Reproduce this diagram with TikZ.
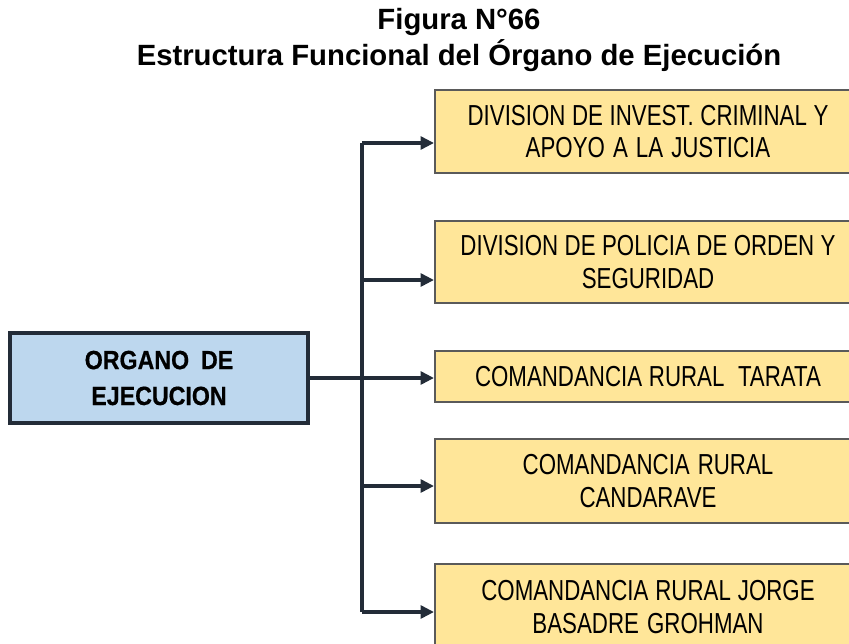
\documentclass[tikz,border=0pt]{standalone}
\usepackage{fontspec}
\setmainfont{Liberation Sans}
\newfontfamily\divfont[FakeStretch=0.77]{Liberation Sans}
\newfontfamily\orgfont[FakeStretch=0.88,FakeBold=0.6]{Liberation Sans}
\usetikzlibrary{positioning,arrows.meta}

\definecolor{orgblue}{HTML}{BDD7EE}
\definecolor{divyellow}{HTML}{FFE699}
\definecolor{linedark}{HTML}{232C38}
\definecolor{divedge}{HTML}{5A5A5A}

\newcommand\divspacing{\spaceskip=0.2em plus 0.05em minus 0.03em\relax}

\begin{document}
\begin{tikzpicture}[
  x=0.03cm, y=-0.03cm,
  orgbox/.style={draw=linedark,line width=2.8pt,fill=orgblue,minimum width=8.94cm,
    minimum height=2.7cm,inner sep=0pt,align=center,
    font=\orgfont\bfseries\fontsize{22.5pt}{30.6pt}\selectfont},
  divbox/.style={draw=divedge,line width=1.7pt,fill=divyellow,anchor=west,
    text width=12.78cm,inner sep=0pt,align=center,
    font=\divfont\fontsize{24.7pt}{28pt}\selectfont,
    execute at begin node=\divspacing},
  link/.style={draw=linedark,line width=3pt},
  tip/.style={-{Triangle[length=11.5pt,width=11pt]}}
]
\useasboundingbox (0,0) rectangle (849,643);
\clip (0,0) rectangle (849,643);

\node[align=center,font=\bfseries\fontsize{25pt}{31.5pt}\selectfont] (title) at (459,40)
  {Figura N°66\\Estructura Funcional del Órgano de Ejecución};

\node[orgbox] (org) at (159,378) {ORGANO\hspace{0.45em}DE\\EJECUCION};

\node[divbox,minimum height=2.49cm] (d1) at (434,131.5) {DIVISION DE INVEST. CRIMINAL Y\\APOYO A LA JUSTICIA};
\node[divbox,minimum height=2.46cm] (d2) at (434,262) {DIVISION DE POLICIA DE ORDEN Y\\SEGURIDAD};
\node[divbox,minimum height=1.53cm] (d3) at (434,376.5) {COMANDANCIA RURAL \ TARATA};
\node[divbox,minimum height=2.52cm] (d4) at (434,481) {COMANDANCIA RURAL\\CANDARAVE};
\node[divbox,minimum height=2.58cm] (d5) at (434,607) {COMANDANCIA RURAL JORGE\\BASADRE GROHMAN};

% spine
\coordinate (s1) at (362,143);
\coordinate (s2) at (362,280);
\coordinate (s4) at (362,486);
\coordinate (s5) at (362,612);
\path (s1) edge[link] (s5);

\path (s1) edge[link,tip] (s1 -| d1.west);
\path (s2) edge[link,tip] (s2 -| d2.west);
\path (org.east) edge[link,tip] (org.east -| d3.west);
\path (s4) edge[link,tip] (s4 -| d4.west);
\path (s5) edge[link,tip] (s5 -| d5.west);
\end{tikzpicture}
\end{document}
